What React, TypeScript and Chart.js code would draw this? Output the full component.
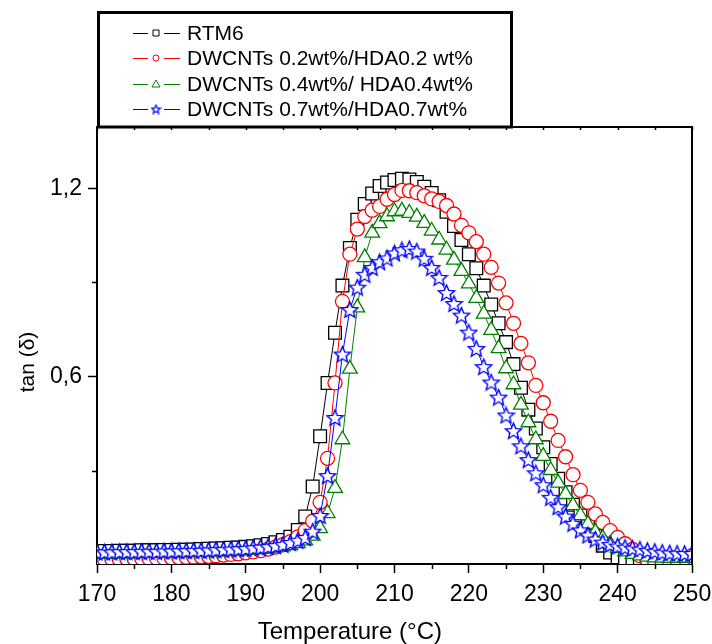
import React, { useEffect, useRef } from "react";
import { Chart, registerables } from "chart.js";

Chart.register(...registerables);

// ---------- data ----------
const temperatures = [
  170, 171, 172, 173, 174, 175, 176, 177, 178, 179, 180, 181, 182, 183, 184, 185, 186, 187, 188, 189,
  190, 191, 192, 193, 194, 195, 196, 197, 198, 199, 200, 201, 202, 203, 204, 205, 206, 207, 208, 209,
  210, 211, 212, 213, 214, 215, 216, 217, 218, 219, 220, 221, 222, 223, 224, 225, 226, 227, 228, 229,
  230, 231, 232, 233, 234, 235, 236, 237, 238, 239, 240, 241, 242, 243, 244, 245, 246, 247, 248, 249, 250,
];

const rtm6 = [
  0.045, 0.045, 0.045, 0.046, 0.046, 0.046, 0.047, 0.047, 0.047, 0.048, 0.048, 0.049, 0.049, 0.05, 0.051, 0.052, 0.053, 0.054, 0.055, 0.056,
  0.058, 0.06, 0.063, 0.067, 0.073, 0.08, 0.09, 0.112, 0.155, 0.25, 0.41, 0.58, 0.74, 0.89, 1.01, 1.1, 1.15, 1.183, 1.207, 1.218,
  1.226, 1.23, 1.228, 1.22, 1.205, 1.185, 1.162, 1.125, 1.08, 1.035, 0.99, 0.945, 0.89, 0.83, 0.77, 0.71, 0.64, 0.565, 0.495, 0.435,
  0.375, 0.322, 0.275, 0.232, 0.192, 0.158, 0.125, 0.093, 0.062, 0.04, 0.025, 0.016, 0.011, 0.01, 0.01, 0.01, 0.01, 0.01, 0.01, 0.01, 0.01,
];

const dw02 = [
  0.018, 0.018, 0.019, 0.019, 0.02, 0.02, 0.021, 0.021, 0.022, 0.022, 0.023, 0.024, 0.025, 0.026, 0.027, 0.028, 0.03, 0.032, 0.034, 0.036,
  0.039, 0.042, 0.046, 0.051, 0.057, 0.065, 0.075, 0.09, 0.11, 0.14, 0.2, 0.34, 0.58, 0.84, 0.99, 1.07, 1.11, 1.13, 1.142, 1.165,
  1.18, 1.193, 1.192, 1.186, 1.176, 1.166, 1.158, 1.145, 1.118, 1.082, 1.058, 1.03, 0.99, 0.948, 0.898, 0.835, 0.77, 0.706, 0.644, 0.572,
  0.517, 0.458, 0.397, 0.345, 0.288, 0.238, 0.2, 0.163, 0.136, 0.11, 0.088, 0.068, 0.05, 0.03, 0.016, 0.01, 0.01, 0.012, 0.015, 0.022, 0.03,
];

const dw04 = [
  0.036, 0.036, 0.036, 0.037, 0.037, 0.037, 0.038, 0.038, 0.038, 0.039, 0.039, 0.04, 0.04, 0.041, 0.041, 0.042, 0.043, 0.044, 0.045, 0.046,
  0.047, 0.049, 0.051, 0.053, 0.056, 0.059, 0.063, 0.069, 0.078, 0.093, 0.117, 0.165, 0.245, 0.4, 0.625, 0.82, 0.98, 1.058, 1.088, 1.11,
  1.126, 1.128, 1.121, 1.109, 1.089, 1.064, 1.036, 1.004, 0.972, 0.936, 0.896, 0.85, 0.8, 0.748, 0.69, 0.626, 0.575, 0.51, 0.454, 0.4,
  0.347, 0.302, 0.262, 0.226, 0.19, 0.158, 0.13, 0.105, 0.085, 0.068, 0.054, 0.043, 0.035, 0.03, 0.026, 0.024, 0.023, 0.022, 0.022, 0.022, 0.022,
];

const dw07 = [
  0.042, 0.042, 0.042, 0.043, 0.043, 0.043, 0.044, 0.044, 0.044, 0.045, 0.045, 0.046, 0.046, 0.047, 0.047, 0.048, 0.049, 0.05, 0.051, 0.052,
  0.053, 0.055, 0.057, 0.059, 0.062, 0.066, 0.072, 0.079, 0.088, 0.108, 0.158, 0.285, 0.47, 0.672, 0.814, 0.885, 0.926, 0.948, 0.966, 0.978,
  0.994, 1.004, 1.008, 1.0, 0.977, 0.948, 0.916, 0.868, 0.833, 0.796, 0.742, 0.69, 0.632, 0.583, 0.535, 0.478, 0.428, 0.38, 0.336, 0.294,
  0.256, 0.216, 0.186, 0.156, 0.133, 0.112, 0.096, 0.083, 0.073, 0.066, 0.061, 0.057, 0.054, 0.051, 0.047, 0.044, 0.041, 0.039, 0.038, 0.037, 0.037,
];

const seriesLabels = [
  "RTM6",
  "DWCNTs 0.2wt%/HDA0.2 wt%",
  "DWCNTs 0.4wt%/ HDA0.4wt%",
  "DWCNTs 0.7wt%/HDA0.7wt%",
];

const yMajorTicks = [0.6, 1.2];
const yMinorTicks = [0.3, 0.9];
const xMinorTicks = [175, 185, 195, 205, 215, 225, 235, 245];
const xTopTicks = [170, 175, 180, 185, 190, 195, 200, 205, 210, 215, 220, 225, 230, 235, 240, 245, 250];

const xTitle = "Temperature (°C)";
const yTitle = "tan (δ)";

// ---------- styling ----------
const FONT = "'Liberation Sans', Arial, sans-serif";
const BLACK = "#000000";
const RED = "#ff0000";
const GREEN = "#008000";
const BLUE = "#0000ff";

function makeStar(size: number, color: string, lw: number) {
  const c = document.createElement("canvas");
  c.width = size;
  c.height = size;
  const ctx = c.getContext("2d")!;
  const cx = size / 2;
  const cy = size / 2 + size * 0.05;
  const R = size / 2 - 1;
  const r = R * 0.45;
  ctx.beginPath();
  for (let i = 0; i < 10; i++) {
    const ang = -Math.PI / 2 + (i * Math.PI) / 5;
    const rad = i % 2 === 0 ? R : r;
    const px = cx + rad * Math.cos(ang);
    const py = cy + rad * Math.sin(ang);
    if (i === 0) ctx.moveTo(px, py);
    else ctx.lineTo(px, py);
  }
  ctx.closePath();
  ctx.fillStyle = "#ffffff";
  ctx.fill();
  ctx.strokeStyle = color;
  ctx.lineWidth = lw;
  ctx.stroke();
  return c;
}

function toPoints(values: number[]) {
  return temperatures.map((t, i) => ({ x: t, y: values[i] }));
}

const frameAndLegend = {
  id: "frameAndLegend",
  afterDraw(chart: any) {
    const { ctx, chartArea: a, scales } = chart;
    const xs = scales.x;
    const ys = scales.y;
    ctx.save();

    // minor ticks
    ctx.strokeStyle = BLACK;
    ctx.lineWidth = 1.5;
    ctx.beginPath();
    for (const v of xMinorTicks) {
      const px = Math.round(xs.getPixelForValue(v)) + 0.5;
      ctx.moveTo(px, a.bottom);
      ctx.lineTo(px, a.bottom + 5);
    }
    for (const v of xTopTicks) {
      const px = Math.round(xs.getPixelForValue(v)) + 0.5;
      ctx.moveTo(px, a.top);
      ctx.lineTo(px, a.top + 3);
    }
    for (const v of yMinorTicks) {
      const py = Math.round(ys.getPixelForValue(v)) + 0.5;
      ctx.moveTo(a.left, py);
      ctx.lineTo(a.left - 5, py);
    }
    ctx.stroke();

    // top and right frame
    ctx.lineWidth = 2;
    ctx.beginPath();
    ctx.moveTo(a.left, a.top);
    ctx.lineTo(a.right, a.top);
    ctx.lineTo(a.right, a.bottom);
    ctx.stroke();

    // legend box
    const bx0 = a.left;
    const by0 = 11;
    const bx1 = 513;
    const by1 = a.top;
    ctx.lineWidth = 3;
    ctx.strokeRect(bx0 + 1.5, by0 + 1.5, bx1 - bx0 - 3, by1 - by0 - 1.5);

    const rowsY = [33, 58, 84, 109];
    const colors = [BLACK, RED, GREEN, BLUE];
    const lx0 = 133;
    const lx1 = 180;
    const mx = 156;
    ctx.font = `21px ${FONT}`;
    ctx.textBaseline = "middle";
    ctx.textAlign = "left";
    seriesLabels.forEach((lab, i) => {
      const y = rowsY[i];
      ctx.strokeStyle = colors[i];
      ctx.lineWidth = 1;
      ctx.beginPath();
      ctx.moveTo(lx0, y + 0.5);
      ctx.lineTo(mx - 8, y + 0.5);
      ctx.moveTo(mx + 8, y + 0.5);
      ctx.lineTo(lx1, y + 0.5);
      ctx.stroke();
      ctx.beginPath();
      if (i === 0) {
        ctx.rect(mx - 3, y - 3, 6, 6);
        ctx.stroke();
      } else if (i === 1) {
        ctx.arc(mx, y, 3, 0, Math.PI * 2);
        ctx.stroke();
      } else if (i === 2) {
        ctx.moveTo(mx, y - 4);
        ctx.lineTo(mx + 4, y + 3);
        ctx.lineTo(mx - 4, y + 3);
        ctx.closePath();
        ctx.stroke();
      } else {
        const img = makeStar(11, BLUE, 1.2);
        ctx.drawImage(img, mx - 5.5, y - 5.5);
      }
      ctx.fillStyle = BLACK;
      ctx.fillText(lab, 187, y + 1);
    });

    // axis titles
    ctx.fillStyle = BLACK;
    ctx.font = `24px ${FONT}`;
    ctx.textAlign = "center";
    ctx.textBaseline = "middle";
    ctx.fillText(xTitle, a.left + (a.right - a.left) * 0.425, 632);

    ctx.save();
    ctx.translate(28, 362);
    ctx.rotate(-Math.PI / 2);
    ctx.font = `21px ${FONT}`;
    ctx.fillText(yTitle, 0, 0);
    ctx.restore();

    ctx.restore();
  },
};

export default function App() {
  const canvasRef = useRef<HTMLCanvasElement | null>(null);

  useEffect(() => {
    const canvas = canvasRef.current;
    if (!canvas) return;
    const star = makeStar(19, BLUE, 1.4);

    const common = {
      showLine: true,
      borderWidth: 1,
      pointBackgroundColor: "#ffffff",
      pointBorderWidth: 1.3,
      pointHoverRadius: 0,
    };

    const chart = new Chart(canvas, {
      type: "scatter",
      data: {
        datasets: [
          {
            ...common,
            label: seriesLabels[0],
            data: toPoints(rtm6),
            borderColor: BLACK,
            pointBorderColor: BLACK,
            pointStyle: "rect",
            pointRadius: 9,
            order: 4,
          },
          {
            ...common,
            label: seriesLabels[1],
            data: toPoints(dw02),
            borderColor: RED,
            pointBorderColor: RED,
            pointStyle: "circle",
            pointRadius: 7,
            order: 3,
          },
          {
            ...common,
            label: seriesLabels[2],
            data: toPoints(dw04),
            borderColor: GREEN,
            pointBorderColor: GREEN,
            pointStyle: "triangle",
            pointRadius: 8.5,
            order: 2,
          },
          {
            ...common,
            label: seriesLabels[3],
            data: toPoints(dw07),
            borderColor: BLUE,
            pointBorderColor: BLUE,
            pointStyle: star as any,
            pointRadius: 9,
            order: 1,
          },
        ],
      },
      options: {
        animation: false,
        responsive: false,
        maintainAspectRatio: false,
        events: [],
        layout: { padding: { top: 127, right: 20, left: 0, bottom: 0 } },
        plugins: {
          legend: { display: false },
          tooltip: { enabled: false },
        },
        scales: {
          x: {
            type: "linear",
            position: "bottom",
            min: 170,
            max: 250,
            afterFit: (scale: any) => {
              scale.height = 80;
              scale.paddingLeft = 0;
              scale.paddingRight = 0;
            },
            ticks: {
              stepSize: 10,
              color: BLACK,
              font: { family: FONT, size: 23 },
              padding: 8,
              callback: (v: any) => String(v),
            },
            grid: {
              display: true,
              drawOnChartArea: false,
              drawTicks: true,
              tickLength: 9,
              tickColor: BLACK,
              tickWidth: 1.5,
            },
            border: { display: true, color: BLACK, width: 2 },
          },
          y: {
            type: "linear",
            min: 0.0035,
            max: 1.395,
            afterFit: (scale: any) => {
              scale.width = 97;
              scale.paddingTop = 0;
              scale.paddingBottom = 0;
            },
            afterBuildTicks: (scale: any) => {
              scale.ticks = yMajorTicks.map((v) => ({ value: v }));
            },
            ticks: {
              color: BLACK,
              font: { family: FONT, size: 23 },
              padding: 6,
              callback: (v: any) => Number(v).toFixed(1).replace(".", ","),
            },
            grid: {
              display: true,
              drawOnChartArea: false,
              drawTicks: true,
              tickLength: 9,
              tickColor: BLACK,
              tickWidth: 1.5,
            },
            border: { display: true, color: BLACK, width: 2 },
          },
        },
      },
      plugins: [frameAndLegend],
    });

    return () => chart.destroy();
  }, []);

  return (
    <div
      style={{
        position: "fixed",
        left: 0,
        top: 0,
        width: 712,
        height: 644,
        background: "#ffffff",
      }}
    >
      <canvas ref={canvasRef} width={712} height={644} style={{ display: "block" }} />
    </div>
  );
}
